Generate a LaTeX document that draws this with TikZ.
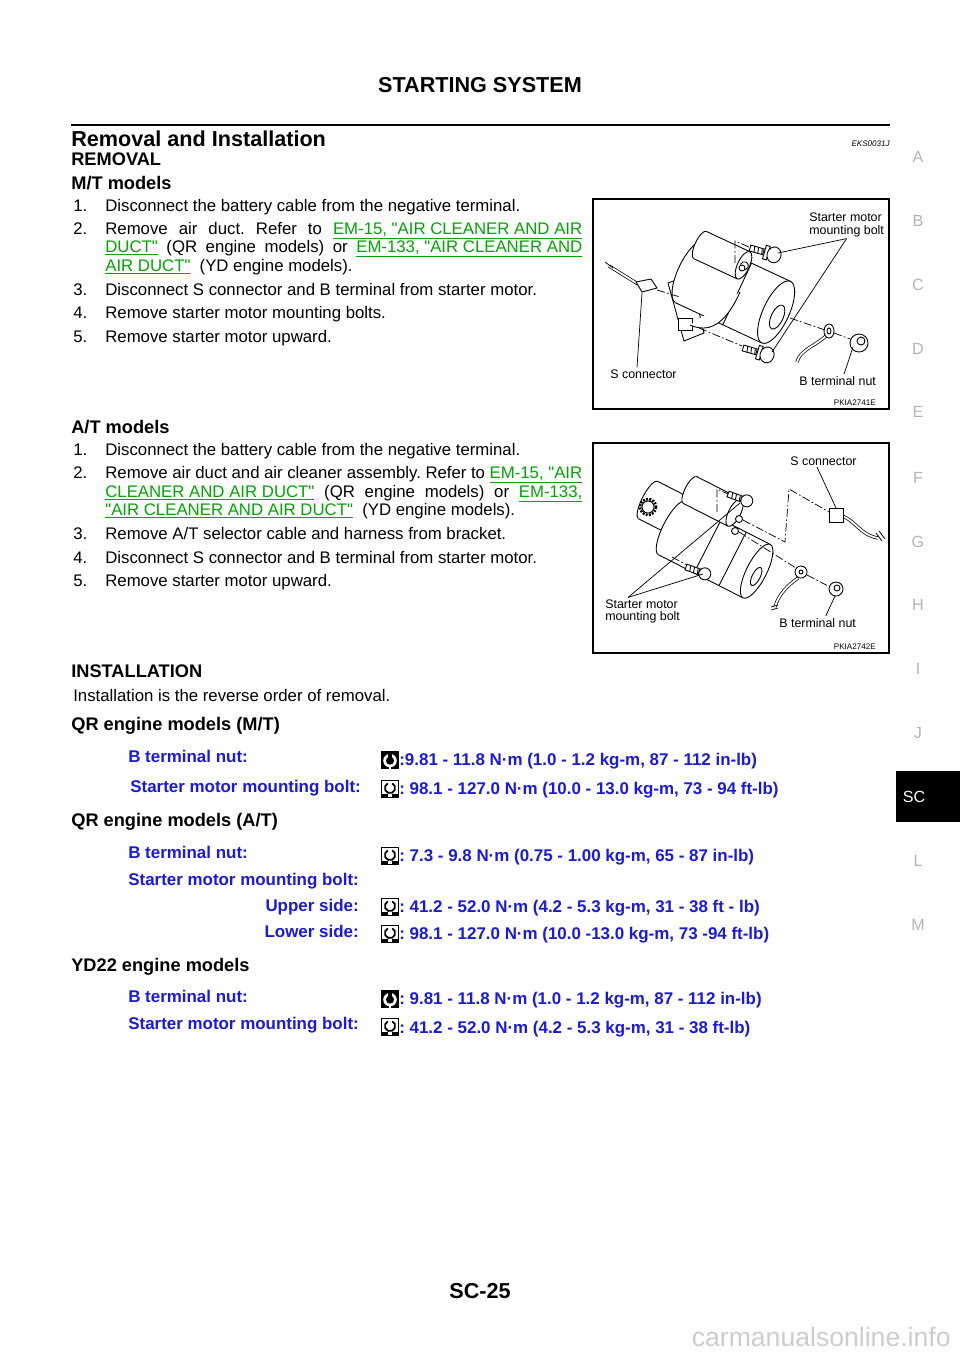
\documentclass[tikz,border=0pt]{standalone}
\usepackage{fontspec}
\setmainfont{Liberation Sans}[Ligatures=TeXOff]
\usepackage{xcolor}
\usepackage{tikz}

\definecolor{lnkgreen}{RGB}{0,165,0}
\definecolor{tqblue}{RGB}{25,25,225}
\definecolor{tabgray}{RGB}{180,180,180}
\definecolor{wmgray}{RGB}{205,205,205}

\newcommand{\bodyf}{\fontsize{10.4}{12.5}\selectfont}
\newcommand{\subf}{\fontsize{11.3}{13}\selectfont\bfseries}
\newcommand{\headf}{\fontsize{13.4}{15}\selectfont\bfseries}
\newcommand{\figf}{\fontsize{7.7}{7.5}\selectfont}
\newcommand{\tinyf}{\fontsize{5}{6}\selectfont}
\newcommand{\tqf}{\fontsize{10.5}{12}\selectfont\bfseries}
\newcommand{\tabf}{\fontsize{10}{12}\selectfont}
\newcommand{\lnk}[1]{\textcolor{lnkgreen}{\underline{#1}}}
\newlength{\jw}\setlength{\jw}{295.7pt}

\tikzset{
  txt/.style={anchor=base west, inner sep=0pt, font=\bodyf},
  subhd/.style={anchor=base west, inner sep=0pt, font=\subf},
  figbox/.style={draw, line width=0.9pt},
  figlbl/.style={inner sep=0pt, font=\figf, align=left},
  figcode/.style={anchor=base east, inner sep=0pt, font=\tinyf},
  leader/.style={line width=0.45pt},
  dashdot/.style={line width=0.45pt, dash pattern=on 5pt off 1.5pt on 1pt off 1.5pt},
  part/.style={line width=0.55pt, fill=white},
  wire/.style={double, double distance=1.1pt, line width=0.45pt},
  tqlbl/.style={anchor=base west, inner sep=0pt, font=\tqf, text=tqblue},
  tqside/.style={anchor=base east, inner sep=0pt, font=\tqf, text=tqblue},
  tqval/.style={anchor=base west, inner sep=0pt, font=\tqf, text=tqblue},
  tabl/.style={inner sep=0pt, font=\tabf, text=tabgray},
  nuticon/.style={fill=black, inner sep=0pt, minimum width=11pt, minimum height=11pt,
    path picture={
      \path (path picture bounding box.center) coordinate (pc);
      \fill[white] ([yshift=-0.4pt]pc) circle (4.2pt);
      \fill[black] ([yshift=-0.4pt]pc) circle (2.5pt);
      \fill[black] ([xshift=-1.5pt,yshift=-0.4pt]pc) rectangle ([xshift=1.5pt,yshift=6pt]pc);
      \fill[white] ([xshift=-0.9pt,yshift=-5.5pt]pc) rectangle ([xshift=0.9pt,yshift=-4pt]pc);
    }},
  bolticon/.style={draw=black, line width=0.5pt, fill=white, inner sep=0pt, minimum width=11pt, minimum height=11pt,
    path picture={
      \path (path picture bounding box.center) coordinate (pc);
      \draw[black, line width=1.1pt] ([yshift=0.6pt]pc) ++(115:3.2pt) arc[start angle=115, end angle=425, radius=3.2pt];
      \fill[black] ([xshift=-5.5pt,yshift=-5.5pt]pc) rectangle ([xshift=-1.2pt,yshift=-3pt]pc);
      \fill[black] ([xshift=5.5pt,yshift=-5.5pt]pc) rectangle ([xshift=1.2pt,yshift=-3pt]pc);
    }}
}

\begin{document}
\frenchspacing
\begin{tikzpicture}[x=0.62pt, y=-0.62pt]
	\useasboundingbox[fill=white] (0,0) rectangle (960,1358);
	% page head
	\node[inner sep=0pt, font=\headf, anchor=base] (title) at (480,92) {STARTING SYSTEM};
	\draw[line width=1.3pt] (71,125) -- (890,125);
	\node[anchor=base west, inner sep=0pt, font=\headf] (sect) at (71,146) {Removal and Installation};
	\node[anchor=base east, inner sep=0pt, font=\tinyf\itshape] (code) at (890,146) {EKS0031J};
	\node[subhd] (removal) at (71,165) {REMOVAL};
	%
	% M/T models
	\node[subhd] (mt) at (71,189) {M/T models};
	\node[txt] (mt1n) at (73,211) {1.};
	\node[txt] (mt1) at (105,211) {Disconnect the battery cable from the negative terminal.};
	\node[txt] (mt2n) at (73,234) {2.};
	\node[txt] (mt2a) at (105,234) {\makebox[\jw][s]{Remove air duct. Refer to \lnk{EM-15, "AIR CLEANER AND AIR}}};
	\node[txt] (mt2b) at (105,252) {\makebox[\jw][s]{\lnk{DUCT"} (QR engine models) or \lnk{EM-133, "AIR CLEANER AND}}};
	\node[txt] (mt2c) at (105,271) {\lnk{AIR DUCT"}\hspace{0.55em}(YD engine models).};
	\node[txt] (mt3n) at (73,295) {3.};
	\node[txt] (mt3) at (105,295) {Disconnect S connector and B terminal from starter motor.};
	\node[txt] (mt4n) at (73,318) {4.};
	\node[txt] (mt4) at (105,318) {Remove starter motor mounting bolts.};
	\node[txt] (mt5n) at (73,342) {5.};
	\node[txt] (mt5) at (105,342) {Remove starter motor upward.};
	%
	% figure M/T
	\draw[figbox] (593,199) rectangle (889,409);
	\filldraw[part] (668,283) -- (690,275) -- (704,333) -- (684,341) -- cycle;
	\filldraw[part] (713,250) ellipse [x radius=8, y radius=6];
	\begin{scope}[shift={(690,272)}, rotate=-25]
		\filldraw[part] (0,0) ellipse [x radius=12, y radius=34];
		\fill[white] (0,-34) rectangle (95,34);
		\draw[part] (0,-34) -- (95,-34) (0,34) -- (95,34);
		\draw[part] (52,-34) -- (52,34);
		\filldraw[part] (95,0) ellipse [x radius=13, y radius=34];
		\draw[part] (98,4) ellipse [x radius=6, y radius=13];
	\end{scope}
	\begin{scope}[shift={(700,245)}, rotate=-25]
		\filldraw[part] (0,0) ellipse [x radius=5, y radius=15];
		\fill[white] (0,-15) rectangle (48,15);
		\draw[part] (0,-15) -- (48,-15) (0,15) -- (48,15);
		\filldraw[part] (48,0) ellipse [x radius=6, y radius=15];
		\filldraw[part] (49,0) circle [radius=4];
	\end{scope}
	\filldraw[part] (742,268) circle [radius=3];
	\filldraw[part] (678,318) rectangle (692,330);
	\draw[part] (690,325) .. controls (708,333) and (725,326) .. (740,292);
	\begin{scope}[shift={(750,248)}, rotate=-16]
		\filldraw[part] (0,-3) rectangle (14,3);
		\draw[part] (4,-3) -- (5,3) (8,-3) -- (9,3) (12,-3) -- (13,3);
		\filldraw[part] (15,-7) rectangle (19,7);
		\filldraw[part] (25,0) ellipse [x radius=7, y radius=8];
	\end{scope}
	\begin{scope}[shift={(743,348)}, rotate=-16]
		\filldraw[part] (0,-3) rectangle (14,3);
		\draw[part] (4,-3) -- (5,3) (8,-3) -- (9,3) (12,-3) -- (13,3);
		\filldraw[part] (15,-7) rectangle (19,7);
		\filldraw[part] (25,0) ellipse [x radius=7, y radius=8];
	\end{scope}
	\draw[wire] (826,336) .. controls (815,346) and (800,350) .. (797,362);
	\filldraw[part] (829,331) ellipse [x radius=5, y radius=7];
	\filldraw[part] (829,331) ellipse [x radius=2, y radius=3];
	\filldraw[part] (859,343) circle [radius=9];
	\filldraw[part] (861,341) circle [radius=4];
	\draw[wire] (609,266) -- (638,284);
	\draw[leader] (605,262) -- (613,268);
	\filldraw[part] (636,282) -- (651,279) -- (657,288) -- (642,292) -- cycle;
	\draw[dashdot] (657,290) -- (680,297);
	\draw[dashdot] (790,318) -- (825,330);
	\draw[dashdot] (834,333) -- (850,339);
	\draw[dashdot] (735,263) -- (735,241) -- (749,247);
	\draw[dashdot] (699,328) -- (742,346);
	\node[figlbl, anchor=north west] (f1-boltlbl) at (809,213) {Starter motor\\mounting bolt};
	\node[figlbl, anchor=base west] (f1-slbl) at (610,378) {S connector};
	\node[figlbl, anchor=base west] (f1-nutlbl) at (799,385) {B terminal nut};
	\node[figcode] (f1-code) at (876,405) {PKIA2741E};
	\coordinate (f1-tbolt) at (778,253);
	\coordinate (f1-bbolt) at (772,352);
	\coordinate (f1-conn) at (642,293);
	\coordinate (f1-nut) at (853,347);
	\draw[leader] ([yshift=-1pt]f1-boltlbl.south) -- (f1-tbolt);
	\draw[leader] ([yshift=-1pt]f1-boltlbl.south) -- (f1-bbolt);
	\draw[leader] ([xshift=-4pt,yshift=1pt]f1-slbl.north) -- (f1-conn);
	\draw[leader] ([xshift=4pt,yshift=1pt]f1-nutlbl.north) -- (f1-nut);
	%
	% A/T models
	\node[subhd] (at) at (71,433) {A/T models};
	\node[txt] (at1n) at (73,455) {1.};
	\node[txt] (at1) at (105,455) {Disconnect the battery cable from the negative terminal.};
	\node[txt] (at2n) at (73,478) {2.};
	\node[txt] (at2a) at (105,478) {\makebox[\jw][s]{Remove air duct and air cleaner assembly. Refer to \lnk{EM-15, "AIR}}};
	\node[txt] (at2b) at (105,497) {\makebox[\jw][s]{\lnk{CLEANER AND AIR DUCT"} (QR engine models) or \lnk{EM-133,}}};
	\node[txt] (at2c) at (105,515) {\lnk{"AIR CLEANER AND AIR DUCT"}\hspace{0.55em}(YD engine models).};
	\node[txt] (at3n) at (73,539) {3.};
	\node[txt] (at3) at (105,539) {Remove A/T selector cable and harness from bracket.};
	\node[txt] (at4n) at (73,563) {4.};
	\node[txt] (at4) at (105,563) {Disconnect S connector and B terminal from starter motor.};
	\node[txt] (at5n) at (73,586) {5.};
	\node[txt] (at5) at (105,586) {Remove starter motor upward.};
	%
	% figure A/T
	\draw[figbox] (593,443) rectangle (889,653);
	\begin{scope}[shift={(648,500)}, rotate=-27]
		\filldraw[part] (0,0) ellipse [x radius=6, y radius=21];
		\fill[white] (0,-21) rectangle (32,21);
		\draw[part] (0,-21) -- (32,-21) (0,21) -- (32,21);
	\end{scope}
	\draw[part, line width=1.6pt, dash pattern=on 1.2pt off 0.8pt] (648,507) circle [radius=8];
	\filldraw[part] (648,507) circle [radius=6];
	\begin{scope}[shift={(672,528)}, rotate=-27]
		\filldraw[part] (0,0) ellipse [x radius=9, y radius=30];
		\fill[white] (0,-30) rectangle (95,30);
		\draw[part] (0,-30) -- (95,-30) (0,30) -- (95,30);
		\draw[part] (40,-30) -- (40,30) (68,-30) -- (68,30);
		\filldraw[part] (95,0) ellipse [x radius=10, y radius=30];
		\draw[part] (97,5) ellipse [x radius=4, y radius=10];
	\end{scope}
	\begin{scope}[shift={(690,490)}, rotate=-27]
		\filldraw[part] (0,0) ellipse [x radius=5, y radius=15];
		\fill[white] (0,-15) rectangle (50,15);
		\draw[part] (0,-15) -- (50,-15) (0,15) -- (50,15);
		\filldraw[part] (50,0) ellipse [x radius=6, y radius=15];
	\end{scope}
	\filldraw[part] (739,519) circle [radius=3.5];
	\filldraw[part] (735,531) circle [radius=3.5];
	\begin{scope}[shift={(728,494)}, rotate=-20]
		\filldraw[part] (0,-3) rectangle (14,3);
		\draw[part] (4,-3) -- (5,3) (8,-3) -- (9,3) (12,-3) -- (13,3);
		\filldraw[part] (20,0) circle [radius=6];
	\end{scope}
	\begin{scope}[shift={(686,567)}, rotate=-20]
		\filldraw[part] (0,-3) rectangle (14,3);
		\draw[part] (4,-3) -- (5,3) (8,-3) -- (9,3) (12,-3) -- (13,3);
		\filldraw[part] (20,0) circle [radius=6];
	\end{scope}
	\draw[wire] (798,578) .. controls (788,585) and (778,595) .. (775,607);
	\draw[leader] (771,607) -- (778,605) (771,610) -- (778,608);
	\filldraw[part] (801,572) circle [radius=6];
	\filldraw[part] (801,572) circle [radius=2];
	\filldraw[part] (836,589) circle [radius=7];
	\filldraw[part] (837,588) circle [radius=3];
	\draw[wire] (842,516) .. controls (855,520) and (860,535) .. (878,538);
	\draw[leader] (876,533) -- (882,541) (879,531) -- (885,539);
	\filldraw[part] (829,508) rectangle (843,522);
	\draw[dashdot] (717,512) -- (717,489) -- (728,494);
	\draw[dashdot] (743,520) -- (785,542) -- (789,489) -- (829,512);
	\draw[dashdot] (739,532) -- (796,568);
	\draw[dashdot] (807,575) -- (830,587);
	\draw[dashdot] (672,557) -- (687,565);
	\node[figlbl, anchor=base west] (f2-slbl) at (790,465) {S connector};
	\node[figlbl, anchor=north west] (f2-boltlbl) at (605,599) {Starter motor\\mounting bolt};
	\node[figlbl, anchor=base west] (f2-nutlbl) at (779,627) {B terminal nut};
	\node[figcode] (f2-code) at (876,649) {PKIA2742E};
	\coordinate (f2-conn) at (836,508);
	\coordinate (f2-tbolt) at (740,503);
	\coordinate (f2-bbolt) at (703,574);
	\coordinate (f2-nut) at (835,596);
	\draw[leader] ([xshift=-4pt,yshift=-1pt]f2-slbl.south) -- (f2-conn);
	\draw[leader] ([xshift=-9pt,yshift=1pt]f2-boltlbl.north) -- (f2-tbolt);
	\draw[leader] ([xshift=-9pt,yshift=1pt]f2-boltlbl.north) -- (f2-bbolt);
	\draw[leader] ([xshift=5pt,yshift=1pt]f2-nutlbl.north) -- (f2-nut);
	%
	% installation
	\node[subhd] (inst) at (71,677) {INSTALLATION};
	\node[txt] (instx) at (73,701) {Installation is the reverse order of removal.};
	\node[subhd] (qrmt) at (71,730) {QR engine models (M/T)};
	\node[tqlbl] (qrmt-nut) at (128,762) {B terminal nut:};
	\node[nuticon] (qrmt-nut-ic) at (390,760) {};
	\node[tqval] (qrmt-nut-val) at (399,765) {:9.81 - 11.8 N·m (1.0 - 1.2 kg-m, 87 - 112 in-lb)};
	\node[tqlbl] (qrmt-bolt) at (130,792) {Starter motor mounting bolt:};
	\node[bolticon] (qrmt-bolt-ic) at (390,789) {};
	\node[tqval] (qrmt-bolt-val) at (399,794) {: 98.1 - 127.0 N·m (10.0 - 13.0 kg-m, 73 - 94 ft-lb)};
	%
	\node[subhd] (qrat) at (71,826) {QR engine models (A/T)};
	\node[tqlbl] (qrat-nut) at (128,858) {B terminal nut:};
	\node[bolticon] (qrat-nut-ic) at (390,856) {};
	\node[tqval] (qrat-nut-val) at (399,861) {: 7.3 - 9.8 N·m (0.75 - 1.00 kg-m, 65 - 87 in-lb)};
	\node[tqlbl] (qrat-bolt) at (128,885) {Starter motor mounting bolt:};
	\node[tqside] (qrat-up) at (359,911) {Upper side:};
	\node[bolticon] (qrat-up-ic) at (390,907) {};
	\node[tqval] (qrat-up-val) at (399,912) {: 41.2 - 52.0 N·m (4.2 - 5.3 kg-m, 31 - 38 ft - lb)};
	\node[tqside] (qrat-lo) at (359,937) {Lower side:};
	\node[bolticon] (qrat-lo-ic) at (390,934) {};
	\node[tqval] (qrat-lo-val) at (399,939) {: 98.1 - 127.0 N·m (10.0 -13.0 kg-m, 73 -94 ft-lb)};
	%
	\node[subhd] (yd) at (71,971) {YD22 engine models};
	\node[tqlbl] (yd-nut) at (128,1002) {B terminal nut:};
	\node[nuticon] (yd-nut-ic) at (390,999) {};
	\node[tqval] (yd-nut-val) at (399,1004) {: 9.81 - 11.8 N·m (1.0 - 1.2 kg-m, 87 - 112 in-lb)};
	\node[tqlbl] (yd-bolt) at (128,1029) {Starter motor mounting bolt:};
	\node[bolticon] (yd-bolt-ic) at (390,1027) {};
	\node[tqval] (yd-bolt-val) at (399,1033) {: 41.2 - 52.0 N·m (4.2 - 5.3 kg-m, 31 - 38 ft-lb)};
	%
	% side tabs
	\node[tabl] (tab-a) at (918,157) {A};
	\node[tabl] (tab-b) at (918,221) {B};
	\node[tabl] (tab-c) at (918,285) {C};
	\node[tabl] (tab-d) at (918,349) {D};
	\node[tabl] (tab-e) at (918,412) {E};
	\node[tabl] (tab-f) at (918,478) {F};
	\node[tabl] (tab-g) at (918,542) {G};
	\node[tabl] (tab-h) at (918,605) {H};
	\node[tabl] (tab-i) at (918,669) {I};
	\node[tabl] (tab-j) at (918,733) {J};
	\fill[black] (896,771) rectangle (960,822);
	\node[inner sep=0pt, font=\tabf, text=white] (tab-sc) at (914,797) {SC};
	\node[tabl] (tab-l) at (918,861) {L};
	\node[tabl] (tab-m) at (918,925) {M};
	%
	% foot
	\node[inner sep=0pt, font=\headf, anchor=base] (pageno) at (480,1298) {SC-25};
	\node[inner sep=0pt, font=\fontsize{16.5}{18}\selectfont, text=wmgray, anchor=base east] (wm) at (951,1346) {carmanualsonline.info};
\end{tikzpicture}
\end{document}
